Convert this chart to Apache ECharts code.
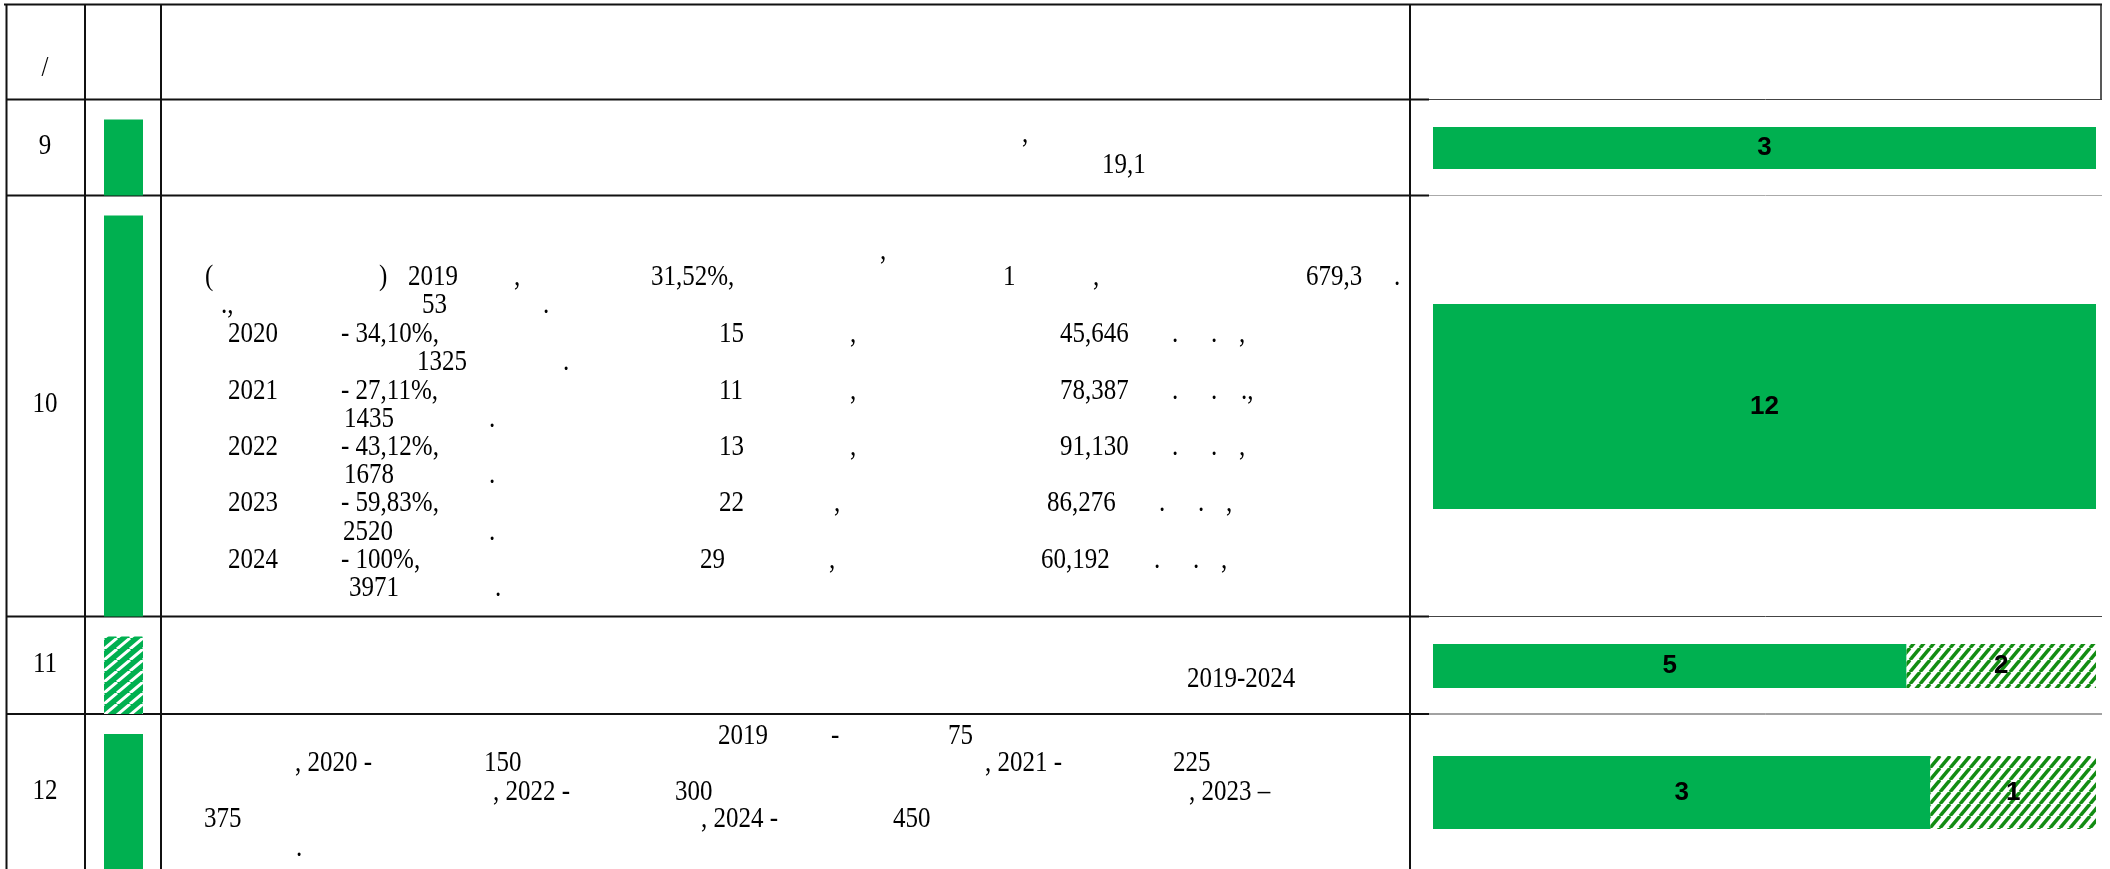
<!DOCTYPE html>
<html>
<head>
<meta charset="utf-8">
<script src="https://cdn.jsdelivr.net/npm/echarts@6/dist/echarts.min.js"></script>
<style>
  html, body { margin: 0; padding: 0; background: #fff; }
  #main { width: 2110px; height: 869px; }
</style>
</head>
<body>
<div id="main"></div>
<script>
// table rows and the counts shown in the right column
const rowNumbers = ['9', '10', '11', '12'];
const rowStatus = ['done', 'done', 'partial', 'done'];
const doneCounts = [3, 12, 5, 3];
const partialCounts = [0, 0, 2, 1];

// bar rectangles in the right column [top, height]
const barBoxes = [[127, 42], [304, 205], [644, 44], [756, 73]];
// row borders
const rowLines = [99.5, 195.5, 616.5, 714];
const rowCenters = [147, 405, 665, 792];

// cell text fragments [x, y, text]
const cellText = [
  [1022, 135, ','], [1102, 166, '19,1'],
  [880, 252, ','],
  [205, 278, '('], [379, 278, ')'], [408, 278, '2019'], [514, 278, ','], [651, 278, '31,52%,'],
  [1003, 278, '1'], [1093, 278, ','], [1306, 278, '679,3'], [1394, 278, '.'],
  [221, 306, '.,'], [422, 306, '53'], [543, 306, '.'],
  [228, 335, '2020'], [341, 335, '- 34,10%,'], [719, 335, '15'], [850, 335, ','], [1060, 335, '45,646'],
  [1172, 335, '.'], [1211, 335, '.'], [1239, 335, ','],
  [417, 363, '1325'], [563, 363, '.'],
  [228, 392, '2021'], [341, 392, '- 27,11%,'], [719, 392, '11'], [850, 392, ','], [1060, 392, '78,387'],
  [1172, 392, '.'], [1211, 392, '.'], [1241, 392, '.,'],
  [344, 420, '1435'], [489, 420, '.'],
  [228, 448, '2022'], [341, 448, '- 43,12%,'], [719, 448, '13'], [850, 448, ','], [1060, 448, '91,130'],
  [1172, 448, '.'], [1211, 448, '.'], [1239, 448, ','],
  [344, 476, '1678'], [489, 476, '.'],
  [228, 504, '2023'], [341, 504, '- 59,83%,'], [719, 504, '22'], [834, 504, ','], [1047, 504, '86,276'],
  [1159, 504, '.'], [1198, 504, '.'], [1226, 504, ','],
  [343, 533, '2520'], [489, 533, '.'],
  [228, 561, '2024'], [341, 561, '- 100%,'], [700, 561, '29'], [829, 561, ','], [1041, 561, '60,192'],
  [1154, 561, '.'], [1193, 561, '.'], [1221, 561, ','],
  [349, 589, '3971'], [495, 589, '.'],
  [1187, 680, '2019-2024'],
  [718, 737, '2019'], [831, 737, '-'], [948, 737, '75'],
  [295, 764, ', 2020 -'], [484, 764, '150'], [985, 764, ', 2021 -'], [1173, 764, '225'],
  [493, 793, ', 2022 -'], [675, 793, '300'], [1189, 793, ', 2023 –'],
  [204, 820, '375'], [701, 820, ', 2024 -'], [893, 820, '450'],
  [296, 849, '.']
];

const GREEN = '#00b050';

function hatch(w, h, bg, fg, lw) {
  const c = document.createElement('canvas');
  c.width = w; c.height = h;
  const ctx = c.getContext('2d');
  ctx.fillStyle = bg;
  ctx.fillRect(0, 0, w, h);
  ctx.strokeStyle = fg;
  ctx.lineWidth = lw;
  for (let k = -1; k <= 1; k++) {
    ctx.beginPath();
    ctx.moveTo(k * w, h);
    ctx.lineTo(k * w + w, 0);
    ctx.stroke();
  }
  return c;
}

const barHatch = { image: hatch(10, 12, '#ffffff', '#128c12', 3.5), repeat: 'repeat' };
const markHatch = { image: hatch(13, 11, GREEN, '#ffffff', 3), repeat: 'repeat' };

const serif = '"Liberation Serif", "Times New Roman", serif';
const textFont = '25px ' + serif;
const tall = 1.14; // source font is drawn a bit narrow and tall
const graphic = [];

function line(x1, y1, x2, y2, stroke, lw) {
  graphic.push({ type: 'line', silent: true, shape: { x1, y1, x2, y2 }, style: { stroke, lineWidth: lw } });
}

function label(x, y, t, align) {
  graphic.push({
    type: 'text', x, y, scaleY: tall, silent: true,
    style: { text: t, font: textFont, fill: '#000', align, verticalAlign: 'middle' }
  });
}

// table frame
line(4, 4.5, 2102, 4.5, '#111', 2);
[6.5, 85, 161, 1410].forEach(x => line(x, 4, x, 869, '#111', 2));
line(2101, 4, 2101, 100, '#222', 1.5);
rowLines.forEach((y, i) => {
  line(6, y, 1429, y, '#111', 2.2);
  line(1429, y, 2102, y, i === 1 ? '#aaaaaa' : '#444', 1);
});

// header slash and row numbers
label(45, 69, '/', 'center');
rowNumbers.forEach((n, i) => label(45, rowCenters[i], n, 'center'));

// status markers in column two
const rowTops = [99.5, 195.5, 616.5, 714];
const rowBottoms = [195.5, 616.5, 714, 869];
rowStatus.forEach((s, i) => {
  const top = rowTops[i] + 20;
  graphic.push({
    type: 'rect', silent: true,
    shape: { x: 104, y: top, width: 39, height: rowBottoms[i] - top },
    style: { fill: s === 'done' ? GREEN : markHatch }
  });
});

cellText.forEach(([x, y, t]) => label(x, y, t, 'left'));

const grid = [], xAxis = [], yAxis = [], series = [];
const barLabel = {
  show: true, position: 'inside', color: '#000', fontSize: 26, fontWeight: 'bold',
  fontFamily: '"Liberation Sans Narrow", "Liberation Sans", Arial, sans-serif',
  formatter: p => (p.value ? String(p.value) : '')
};
rowNumbers.forEach((n, i) => {
  grid.push({ left: 1433, width: 663, top: barBoxes[i][0], height: barBoxes[i][1] });
  xAxis.push({ type: 'value', gridIndex: i, min: 0, max: doneCounts[i] + partialCounts[i], show: false });
  yAxis.push({ type: 'category', gridIndex: i, data: [n], show: false });
  series.push({
    type: 'bar', xAxisIndex: i, yAxisIndex: i, stack: 'r' + i, barCategoryGap: '0%',
    data: [doneCounts[i]], itemStyle: { color: GREEN }, label: barLabel, silent: true
  });
  if (partialCounts[i]) {
    series.push({
      type: 'bar', xAxisIndex: i, yAxisIndex: i, stack: 'r' + i, barCategoryGap: '0%',
      data: [partialCounts[i]], itemStyle: { color: barHatch }, label: barLabel, silent: true
    });
  }
});

const chart = echarts.init(document.getElementById('main'), null, { renderer: 'canvas' });
chart.setOption({
  backgroundColor: '#ffffff',
  animation: false,
  grid, xAxis, yAxis, series,
  graphic
});
</script>
</body>
</html>
